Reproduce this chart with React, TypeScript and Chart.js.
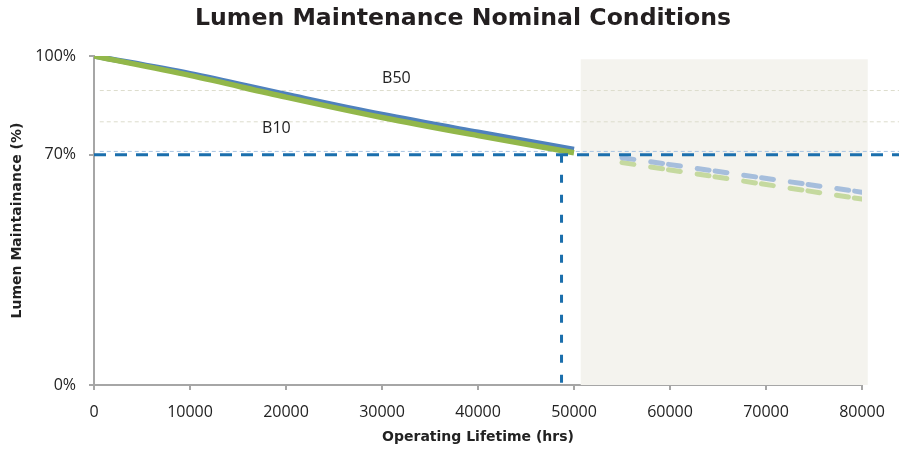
import { useEffect, useRef } from 'react';
import { Chart, registerables } from 'chart.js';

Chart.register(...registerables);

const chartTitle = 'Lumen Maintenance Nominal Conditions';
const xAxisTitle = 'Operating Lifetime (hrs)';
const yAxisTitle = 'Lumen Maintainance (%)';

const xTickValues = [0, 10000, 20000, 30000, 40000, 50000, 60000, 70000, 80000];
const yTickValues = [0, 70, 100];

const hours = [0, 10000, 20000, 30000, 40000, 50000];
const b50Values = [100, 94.6, 88.3, 82.2, 76.8, 71.6];
const b10Values = [100, 94.1, 87.5, 81.3, 75.8, 70.6];

const projectionHours = [55000, 80000];
const b50Projection = [69.1, 58.6];
const b10Projection = [67.6, 56.5];

const beyondHours = [50700, 80600];
const beyondTop = 99;

const targetLevel = 70;
const l70Hours = 48700;
const refLineHours = [600, 84000];
const b50RefLevel = 89.5;
const b10RefLevel = 80;
const nearTargetLevel = 71;

const labelNames = ['B50', 'B10'];
const labelHours = [31500, 19000];
const labelLevels = [93.3, 78.0];

const FONT = "'Open Sans', 'DejaVu Sans', sans-serif";
const TITLE_FONT = "'DejaVu Sans', 'Open Sans', sans-serif";

const pts = (xs: number[], ys: number[]) => xs.map((x, i) => ({ x, y: ys[i] }));
const flat = (xs: number[], y: number) => xs.map((x) => ({ x, y }));

const beyondPlugin = {
  id: 'beyondShade',
  beforeDatasetsDraw(chart: any) {
    const { ctx, scales } = chart;
    const x0 = scales.x.getPixelForValue(beyondHours[0]);
    const x1 = scales.x.getPixelForValue(beyondHours[1]);
    const y0 = scales.y.getPixelForValue(beyondTop);
    const y1 = scales.y.getPixelForValue(0);
    ctx.save();
    ctx.fillStyle = '#f4f3ee';
    ctx.fillRect(x0, y0, x1 - x0, y1 - y0);
    ctx.restore();
  },
};

const textPlugin = {
  id: 'texts',
  afterDatasetsDraw(chart: any) {
    const { ctx, scales } = chart;
    ctx.save();
    ctx.font = `16px ${FONT}`;
    ctx.fillStyle = '#222222';
    ctx.textAlign = 'center';
    ctx.textBaseline = 'middle';
    labelNames.forEach((name, i) => {
      ctx.fillText(name, scales.x.getPixelForValue(labelHours[i]), scales.y.getPixelForValue(labelLevels[i]));
    });
    ctx.font = `bold 23.6px ${TITLE_FONT}`;
    ctx.fillStyle = '#231f20';
    ctx.fillText(chartTitle, 463, 19);
    ctx.restore();
  },
};

export default function App() {
  const canvasRef = useRef<HTMLCanvasElement | null>(null);

  useEffect(() => {
    const canvas = canvasRef.current;
    if (!canvas) return;
    const base = { pointRadius: 0, pointHoverRadius: 0, fill: false, showLine: true };
    const chart = new Chart(canvas, {
      type: 'scatter',
      data: {
        datasets: [
          {
            ...base,
            label: 'B50 ref',
            data: flat(refLineHours, b50RefLevel),
            borderWidth: 1,
            borderColor: '#dcdccc',
            borderDash: [4, 3],
            clip: false,
            order: 18,
          },
          {
            ...base,
            label: 'B10 ref',
            data: flat(refLineHours, b10RefLevel),
            borderWidth: 1,
            borderColor: '#dcdccc',
            borderDash: [4, 3],
            clip: false,
            order: 18,
          },
          {
            ...base,
            label: 'Near target',
            data: flat(refLineHours, nearTargetLevel),
            borderWidth: 1,
            borderColor: '#a9c4e2',
            borderDash: [4, 3],
            clip: false,
            order: 17,
          },
          {
            ...base,
            label: 'B50 projection',
            data: pts(projectionHours, b50Projection),
            borderWidth: 5,
            borderColor: '#a6bedc',
            borderDash: [12, 6, 12, 17],
            borderDashOffset: 18,
            borderCapStyle: 'round',
            order: 12,
          },
          {
            ...base,
            label: 'B10 projection',
            data: pts(projectionHours, b10Projection),
            borderWidth: 5,
            borderColor: '#c5d99f',
            borderDash: [12, 6, 12, 17],
            borderDashOffset: 18,
            borderCapStyle: 'round',
            order: 12,
          },
          {
            ...base,
            label: 'B50',
            data: pts(hours, b50Values),
            borderWidth: 5.5,
            borderColor: '#4f81bd',
            cubicInterpolationMode: 'monotone',
            order: 6,
          },
          {
            ...base,
            label: 'B10',
            data: pts(hours, b10Values),
            borderWidth: 5.5,
            borderColor: '#92b74a',
            cubicInterpolationMode: 'monotone',
            order: 5,
          },
          {
            ...base,
            label: 'L70 level',
            data: flat([0, refLineHours[1]], targetLevel),
            borderWidth: 3,
            borderColor: '#1b6fad',
            borderDash: [12, 9],
            clip: false,
            order: 3,
          },
          {
            ...base,
            label: 'L70 hours',
            data: [
              { x: l70Hours, y: targetLevel },
              { x: l70Hours, y: 0 },
            ],
            borderWidth: 3,
            borderColor: '#1b6fad',
            borderDash: [8, 12],
            order: 3,
          },
        ],
      },
      options: {
        responsive: false,
        animation: false,
        events: [],
        layout: { padding: { top: 56, right: 37, bottom: 0, left: 0 } },
        plugins: {
          legend: { display: false },
          tooltip: { enabled: false },
          title: { display: false },
        },
        scales: {
          x: {
            type: 'linear',
            min: 0,
            max: 80000,
            afterBuildTicks: (scale: any) => {
              scale.ticks = xTickValues.map((value) => ({ value }));
            },
            afterFit: (scale: any) => {
              scale.height = 69;
            },
            ticks: {
              color: '#222222',
              font: { family: FONT, size: 16 },
              padding: 13,
              maxRotation: 0,
              autoSkip: false,
              callback: (v: any) => String(v),
            },
            grid: { display: true, drawOnChartArea: false, drawTicks: true, tickLength: 5, color: '#a6a6a6', lineWidth: 2 },
            border: { display: true, color: '#a6a6a6', width: 2 },
            title: {
              display: true,
              text: xAxisTitle,
              color: '#222222',
              font: { family: TITLE_FONT, size: 14, weight: 'bold' },
              padding: { top: 4, bottom: 8 },
            },
          },
          y: {
            type: 'linear',
            min: 0,
            max: 100,
            afterBuildTicks: (scale: any) => {
              scale.ticks = yTickValues.map((value) => ({ value }));
            },
            afterFit: (scale: any) => {
              scale.width = 94;
            },
            ticks: {
              color: '#222222',
              font: { family: FONT, size: 16 },
              padding: 13,
              autoSkip: false,
              callback: (v: any) => `${v}%`,
            },
            grid: { display: true, drawOnChartArea: false, drawTicks: true, tickLength: 5, color: '#a6a6a6', lineWidth: 2 },
            border: { display: true, color: '#a6a6a6', width: 2 },
            title: {
              display: true,
              text: yAxisTitle,
              color: '#222222',
              font: { family: TITLE_FONT, size: 14, weight: 'bold' },
              padding: { top: 9, bottom: 4 },
            },
          },
        },
      } as any,
      plugins: [beyondPlugin, textPlugin],
    });
    return () => chart.destroy();
  }, []);

  return (
    <div style={{ position: 'absolute', left: 0, top: 0, width: 899, height: 454, background: '#ffffff' }}>
      <canvas ref={canvasRef} width={899} height={454} style={{ display: 'block' }} />
    </div>
  );
}
